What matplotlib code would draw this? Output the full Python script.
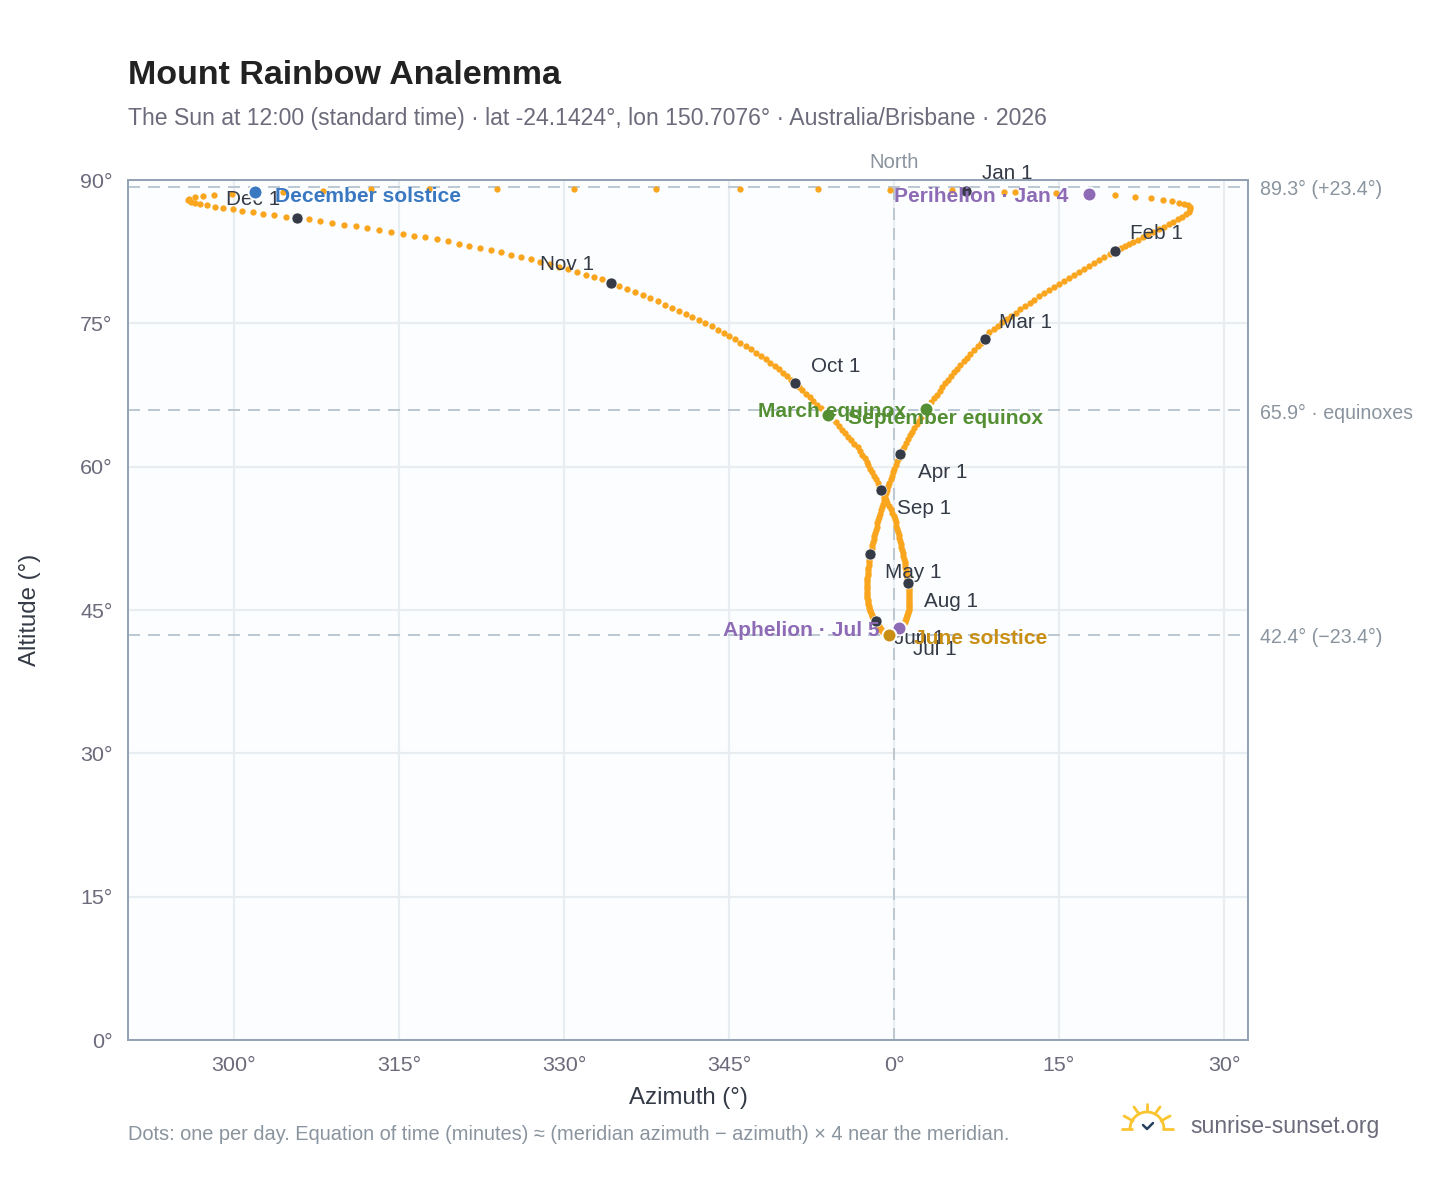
import matplotlib
matplotlib.use("Agg")
import matplotlib.pyplot as plt
from matplotlib.lines import Line2D
from matplotlib.patches import Arc

plt.rcParams['font.family'] = ['Liberation Sans', 'DejaVu Sans']

# ---------- data: noon sun position per day (degrees, azimuth relative to north) ----------
az_jan = [6.55,11.03,14.73,17.7,20.06,21.91,23.36,24.45,25.27,25.94,26.4,26.7,26.87,26.93,26.78,26.55,26.2,25.8,25.4,25.0,24.55,24.1,23.55,23.1,22.65,22.2,21.7,21.35,21.0,20.65,20.35]
alt_jan = [88.88,88.77,88.67,88.53,88.39,88.25,88.11,87.9,87.8,87.62,87.48,87.36,87.17,86.96,86.7,86.44,86.18,85.9,85.65,85.4,85.1,84.87,84.55,84.3,84.03,83.77,83.5,83.3,83.1,82.9,82.72]
az_feb = [20.1,19.6,19.12,18.64,18.16,17.7,17.24,16.78,16.34,15.9,15.44,14.98,14.53,14.08,13.64,13.2,12.77,12.34,11.91,11.49,11.07,10.66,10.25,9.85,9.45,9.05,8.66,8.45]
alt_feb = [82.57,82.27,81.97,81.66,81.35,81.04,80.73,80.41,80.09,79.77,79.45,79.13,78.8,78.47,78.14,77.81,77.48,77.14,76.8,76.46,76.12,75.78,75.44,75.1,74.76,74.41,74.06,73.71]
az_mar = [8.27,7.93,7.6,7.27,6.95,6.64,6.34,6.04,5.75,5.47,5.19,4.92,4.66,4.4,4.15,3.9,3.65,3.4,3.15,2.91,2.7,2.48,2.27,2.06,1.85,1.65,1.45,1.26,1.07,0.89,0.72]
alt_mar = [73.36,72.97,72.58,72.2,71.81,71.42,71.03,70.65,70.26,69.87,69.48,69.1,68.71,68.33,67.94,67.55,67.17,66.78,66.39,66.0,65.61,65.22,64.83,64.44,64.05,63.66,63.27,62.88,62.49,62.1,61.71]
az_apr = [0.55,0.42,0.29,0.16,0.04,-0.08,-0.2,-0.31,-0.42,-0.53,-0.64,-0.74,-0.84,-0.94,-1.03,-1.12,-1.2,-1.28,-1.36,-1.44,-1.51,-1.58,-1.65,-1.72,-1.79,-1.85,-1.91,-1.97,-2.03,-2.08]
alt_apr = [61.32,60.94,60.56,60.18,59.8,59.43,59.06,58.69,58.32,57.95,57.58,57.22,56.86,56.5,56.14,55.79,55.44,55.09,54.74,54.4,54.06,53.72,53.38,53.05,52.72,52.4,52.08,51.77,51.46,51.15]
az_may = [-2.18,-2.21,-2.24,-2.27,-2.3,-2.33,-2.36,-2.38,-2.4,-2.42,-2.44,-2.45,-2.46,-2.46,-2.46,-2.46,-2.45,-2.44,-2.42,-2.4,-2.37,-2.34,-2.3,-2.26,-2.21,-2.16,-2.1,-2.04,-1.97,-1.9,-1.78]
alt_may = [50.86,50.57,50.28,50.0,49.72,49.44,49.17,48.9,48.64,48.38,48.13,47.88,47.63,47.39,47.15,46.92,46.69,46.47,46.25,46.04,45.83,45.63,45.43,45.24,45.05,44.87,44.69,44.52,44.35,44.19,44.03]
az_jun = [-1.64,-1.58,-1.52,-1.46,-1.4,-1.34,-1.28,-1.22,-1.16,-1.1,-1.04,-0.98,-0.92,-0.86,-0.8,-0.74,-0.68,-0.62,-0.56,-0.5,-0.45,-0.39,-0.33,-0.27,-0.21,-0.15,-0.09,-0.03,0.03,0.08]
alt_jun = [43.88,43.74,43.6,43.47,43.35,43.23,43.12,43.02,42.92,42.83,42.75,42.68,42.62,42.56,42.51,42.47,42.44,42.42,42.4,42.39,42.38,42.38,42.39,42.4,42.42,42.45,42.48,42.52,42.57,42.62]
az_jul = [0.14,0.24,0.34,0.44,0.52,0.62,0.72,0.82,0.9,0.96,1.02,1.08,1.13,1.18,1.22,1.26,1.3,1.33,1.35,1.37,1.38,1.39,1.4,1.4,1.4,1.39,1.38,1.37,1.35,1.33,1.3]
alt_jul = [42.72,42.8,42.89,42.99,43.1,43.21,43.33,43.46,43.59,43.73,43.88,44.03,44.18,44.34,44.5,44.67,44.84,45.02,45.2,45.38,45.57,45.76,45.96,46.16,46.36,46.56,46.77,46.98,47.19,47.4,47.61]
az_aug = [1.27,1.24,1.2,1.16,1.12,1.08,1.04,1.0,0.96,0.91,0.86,0.8,0.73,0.67,0.61,0.55,0.49,0.43,0.37,0.3,0.22,0.14,0.06,-0.02,-0.16,-0.31,-0.46,-0.61,-0.76,-0.9,-1.04]
alt_aug = [47.82,48.09,48.36,48.64,48.92,49.2,49.49,49.78,50.07,50.37,50.67,50.97,51.28,51.59,51.9,52.22,52.54,52.86,53.18,53.51,53.84,54.17,54.5,54.84,55.18,55.52,55.86,56.2,56.54,56.87,57.21]
az_sep = [-1.18,-1.33,-1.49,-1.65,-1.81,-1.98,-2.15,-2.32,-2.5,-2.68,-2.87,-3.07,-3.3,-3.62,-3.88,-4.15,-4.42,-4.7,-4.99,-5.29,-5.65,-6.0,-6.33,-6.66,-7.0,-7.34,-7.68,-8.0,-8.33,-8.66]
alt_sep = [57.55,57.92,58.29,58.66,59.03,59.4,59.78,60.15,60.52,60.89,61.27,61.64,62.01,62.39,62.76,63.13,63.51,63.88,64.25,64.63,65.0,65.37,65.75,66.12,66.5,66.88,67.25,67.62,68.0,68.37]
az_oct = [-9.0,-9.34,-9.69,-10.06,-10.44,-10.83,-11.24,-11.66,-12.09,-12.54,-13.0,-13.47,-13.96,-14.46,-14.97,-15.5,-16.04,-16.59,-17.16,-17.74,-18.33,-18.94,-19.56,-20.19,-20.84,-21.5,-22.17,-22.86,-23.56,-24.27,-25.0]
alt_oct = [68.75,69.11,69.47,69.83,70.18,70.53,70.88,71.23,71.58,71.93,72.28,72.63,72.97,73.31,73.65,73.99,74.33,74.67,75.0,75.33,75.66,75.99,76.32,76.65,76.97,77.29,77.61,77.93,78.25,78.57,78.9]
az_nov = [-25.76,-26.52,-27.27,-28.03,-28.85,-29.67,-30.42,-31.27,-32.15,-33.03,-33.91,-34.82,-35.73,-36.67,-37.64,-38.61,-39.58,-40.58,-41.58,-42.61,-43.64,-44.67,-45.73,-46.79,-47.88,-48.94,-50.0,-51.09,-52.15,-53.21]
alt_nov = [79.25,79.6,79.85,80.09,80.37,80.65,80.93,81.17,81.45,81.7,81.95,82.19,82.43,82.68,82.89,83.13,83.34,83.59,83.83,84.0,84.18,84.39,84.6,84.81,84.98,85.16,85.33,85.51,85.72,85.9]
az_dec = [-54.27,-55.3,-56.33,-57.33,-58.3,-59.24,-60.12,-60.97,-61.73,-62.42,-63.06,-63.55,-63.94,-64.15,-64.06,-63.58,-62.85,-61.79,-60.15,-55.55,-51.91,-47.55,-42.27,-36.09,-29.09,-21.64,-14.0,-6.91,-0.36,5.27,10.0]
alt_dec = [86.05,86.17,86.34,86.48,86.65,86.79,86.93,87.07,87.2,87.34,87.48,87.62,87.73,87.9,88.04,88.22,88.36,88.46,88.53,88.77,88.88,89.02,89.05,89.05,89.09,89.05,89.05,89.05,89.0,88.95,88.77]

month_names = ['Jan','Feb','Mar','Apr','May','Jun','Jul','Aug','Sep','Oct','Nov','Dec']
az_months = [az_jan,az_feb,az_mar,az_apr,az_may,az_jun,az_jul,az_aug,az_sep,az_oct,az_nov,az_dec]
alt_months = [alt_jan,alt_feb,alt_mar,alt_apr,alt_may,alt_jun,alt_jul,alt_aug,alt_sep,alt_oct,alt_nov,alt_dec]

event_names = ['December solstice','Perihelion · Jan 4','Aphelion · Jul 5','June solstice','March equinox','September equinox']
event_az = [-58.09,17.7,0.45,-0.45,2.91,-6.0]
event_alt = [88.7,88.53,43.1,42.38,66.0,65.4]

ref_alt = [89.3,65.9,42.4]
ref_labels = ['89.3° (+23.4°)','65.9° · equinoxes','42.4° (−23.4°)']
az_ticks = [-60,-45,-30,-15,0,15,30]
az_tick_labels = ['300°','315°','330°','345°','0°','15°','30°']
alt_ticks = [0,15,30,45,60,75,90]
alt_tick_labels = ['0°','15°','30°','45°','60°','75°','90°']

# ---------- style ----------
W,H = 1448,1188
L,R,T,B = 128,1248,180,1040
fig = plt.figure(figsize=(W/100,H/100),dpi=100,facecolor='white')
ax = fig.add_axes([L/W,1-B/H,(R-L)/W,(B-T)/H],facecolor='#fbfdff')
ax.set_xlim((L-894)/11,(R-894)/11)
ax.set_ylim(0,90)
px = 0.72
frame = '#94a3b3'; tick_c = '#6b6b7b'; dark = '#343a46'; muted = '#8a949e'
for s in ax.spines.values():
    s.set_color(frame); s.set_linewidth(2*px); s.set_zorder(6)
ax.set_axisbelow(True)
ax.grid(True,color='#e8edf2',lw=2.2*px)
ax.set_xticks(az_ticks); ax.set_xticklabels(az_tick_labels)
ax.set_yticks(alt_ticks); ax.set_yticklabels(alt_tick_labels)
ax.tick_params(length=0,labelsize=21.5*px,labelcolor=tick_c,pad=11.5)
ax.tick_params(axis='y',pad=11)
ax.set_xlabel('Azimuth (°)',fontsize=24*px,color=dark,labelpad=9)
ax.set_ylabel('Altitude (°)',fontsize=24*px,color=dark,labelpad=28.5)

dash = (0,(6,4))
for a,lab in zip(ref_alt,ref_labels):
    ax.axhline(a,color='#bcc8d2',lw=2*px,ls=dash,zorder=1.5)
    ax.annotate(lab,(1,a),xycoords=('axes fraction','data'),xytext=(12,-3),textcoords='offset pixels',
                ha='left',va='center',fontsize=19.7*px,color=muted,annotation_clip=False)
ax.axvline(0,color='#bcc8d2',lw=2*px,ls=dash,zorder=1.5)
ax.annotate('North',(0,1),xycoords=('data','axes fraction'),xytext=(0,17),textcoords='offset pixels',
            ha='center',va='center',fontsize=20.3*px,color=muted,annotation_clip=False)

# daily dots
all_az = [v for m in az_months for v in m]
all_alt = [v for m in alt_months for v in m]
ax.scatter(all_az,all_alt,s=(6.3*px)**2,color='#f9a51e',linewidths=0,zorder=3,clip_on=False)

# first-of-month markers and labels
above = {'Jan','Feb','Mar','Oct'}
left = {'Nov','Dec'}
for name,a,b in zip(month_names,az_months,alt_months):
    ax.scatter([a[0]],[b[0]],s=(11*px)**2,color=dark,edgecolors='white',linewidths=0.6*px,zorder=4)
    if name in left: dx,dy = -44,18
    elif name in above: dx,dy = 41,17
    elif name == 'Jul': dx,dy = 39,-18
    else: dx,dy = 43,-18
    ax.annotate(f'{name} 1',(a[0],b[0]),xytext=(dx,dy),textcoords='offset pixels',ha='center',va='center',
                fontsize=20.6*px,color=dark,zorder=5)

# events
event_colors = ['#3a78c2','#8e6bb5','#8e6bb5','#c98f14','#558f33','#558f33']
event_off = [(20,-4,'left'),(-20,-2,'right'),(-19,-2,'right'),(25,-3,'left'),(-20,-2,'right'),(20,-3,'left')]
for n,a,b,c,(dx,dy,ha) in zip(event_names,event_az,event_alt,event_colors,event_off):
    ax.scatter([a],[b],s=(14*px)**2,color=c,edgecolors='white',linewidths=2*px,zorder=7)
    ax.annotate(n,(a,b),xytext=(dx,dy),textcoords='offset pixels',ha=ha,va='center',
                fontsize=21*px,fontweight='bold',color=c,zorder=8)

# header and footer
def ftext(x,y,s,**kw):
    fig.text(x/W,1-y/H,s,**kw)
ftext(128,76,'Mount Rainbow Analemma',fontsize=34*px,fontweight='bold',color='#222222',ha='left',va='center')
ftext(128,118,'The Sun at 12:00 (standard time) · lat -24.1424°, lon 150.7076° · Australia/Brisbane · 2026',
      fontsize=23*px,color=tick_c,ha='left',va='center')
ftext(128,1134,'Dots: one per day. Equation of time (minutes) ≈ (meridian azimuth − azimuth) × 4 near the meridian.',
      fontsize=19.95*px,color=muted,ha='left',va='center')
ftext(1190,1127,'sunrise-sunset.org',fontsize=23*px,color=tick_c,ha='left',va='center')

# logo (figure pixels)
def fline(xs,ys,c,lw):
    fig.add_artist(Line2D([x/W for x in xs],[1-y/H for y in ys],color=c,lw=lw*px,transform=fig.transFigure,solid_capstyle='round'))
sun = '#fbc531'
cx,cy = 1147,1129
fline([1122,1132],[1129,1129],sun,2.8)
fline([1163,1173],[1129,1129],sun,2.8)
fig.add_artist(Arc((cx/W,1-cy/H),34/W,34/H,theta1=0,theta2=180,color=sun,lw=2.8*px,transform=fig.transFigure))
fline([1124,1133],[1116,1121],sun,2.8)
fline([1134,1139],[1107,1114],sun,2.8)
fline([1147,1147],[1104,1111],sun,2.8)
fline([1160,1155],[1107,1114],sun,2.8)
fline([1170,1161],[1116,1121],sun,2.8)
fline([1143,1147,1153],[1125,1129,1123],'#26415f',2.5)

fig.savefig('out.png',dpi=100,facecolor='white')
